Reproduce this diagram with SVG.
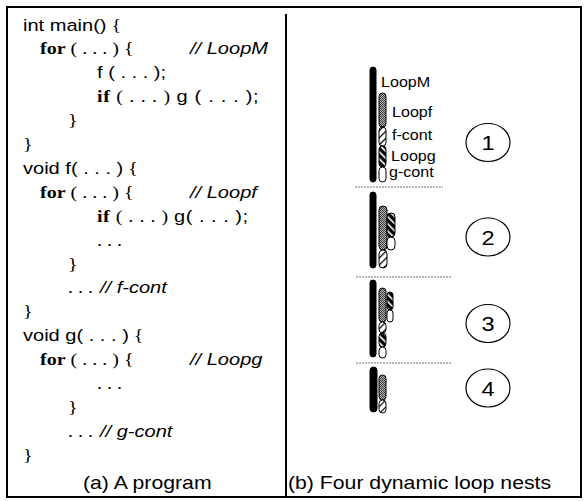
<svg xmlns="http://www.w3.org/2000/svg" width="585" height="501" viewBox="0 0 585 501">
<style>
.sans{font-family:"Liberation Sans",Arial,sans-serif;}
.serif{font-family:"Liberation Serif","Times New Roman",serif;}
.code{font-size:17px;fill:#000;}
.kw{font-family:"Liberation Serif","Times New Roman",serif;font-weight:bold;}
.it{font-family:"Liberation Sans",Arial,sans-serif;font-style:italic;}
.lbl{font-family:"Liberation Sans",Arial,sans-serif;font-size:14px;fill:#000;}
.num{font-family:"Liberation Sans",Arial,sans-serif;font-size:20px;text-anchor:middle;fill:#000;}
.cap{font-family:"Liberation Sans",Arial,sans-serif;font-size:18px;fill:#000;}
.bar{stroke:#000;stroke-width:1;}
.blk{fill:#000;}
.chk{fill:url(#chk);}
.hw{fill:url(#hatchW);}
.hb{fill:url(#hatchB);}
.wh{fill:#fff;}
.sep{stroke:#777;stroke-width:1.2;stroke-dasharray:2 1;fill:none;}
.ring{fill:none;stroke:#000;stroke-width:1.2;}
.frame{fill:none;stroke:#000;stroke-width:2;}
</style>
<defs>
<pattern id="chk" width="2" height="2" patternUnits="userSpaceOnUse">
<rect width="2" height="2" fill="#b4b4b4"/><rect width="1" height="1" fill="#3c3c3c"/><rect x="1" y="1" width="1" height="1" fill="#3c3c3c"/>
</pattern>
<pattern id="hatchW" width="5" height="5" patternUnits="userSpaceOnUse" patternTransform="rotate(45)">
<rect width="5" height="5" fill="#fff"/><rect width="1.2" height="5" fill="#000"/>
</pattern>
<pattern id="hatchB" width="5" height="5" patternUnits="userSpaceOnUse" patternTransform="rotate(-45)">
<rect width="5" height="5" fill="#000"/><rect width="1.6" height="5" fill="#fff"/>
</pattern>
</defs>
<rect width="585" height="501" fill="#fff"/>
<g id="frame">
<rect class="frame" x="7" y="7" width="574" height="490"/>
<line class="frame" x1="286" y1="14" x2="286" y2="497"/>
</g>
<g id="program" class="code">
<text class="sans" transform="matrix(1.18 0 0 1 23 30.5)">int main()<tspan class="serif"> {</tspan></text>
<text transform="matrix(1.18 0 0 1 40 54.4)"><tspan class="kw">for</tspan><tspan class="serif"> ( . . . ) {</tspan></text>
<text class="it" transform="matrix(1.18 0 0 1 190 54.4)">// LoopM</text>
<text class="sans" transform="matrix(1.18 0 0 1 97 78.3)">f ( . . . );</text>
<text transform="matrix(1.18 0 0 1 97 102.2)" textLength="137" lengthAdjust="spacing"><tspan class="kw">if</tspan><tspan class="serif"> ( . . . ) </tspan><tspan class="sans">g ( . . . );</tspan></text>
<text class="serif" transform="matrix(1.18 0 0 1 68 126.1)">}</text>
<text class="serif" transform="matrix(1.18 0 0 1 23 150)">}</text>
<text class="sans" transform="matrix(1.18 0 0 1 23 173.9)">void f( . . . )<tspan class="serif"> {</tspan></text>
<text transform="matrix(1.18 0 0 1 40 197.8)"><tspan class="kw">for</tspan><tspan class="serif"> ( . . . ) {</tspan></text>
<text class="it" transform="matrix(1.18 0 0 1 190 197.8)">// Loopf</text>
<text transform="matrix(1.18 0 0 1 97 221.7)" textLength="128" lengthAdjust="spacing"><tspan class="kw">if</tspan><tspan class="serif"> ( . . . ) </tspan><tspan class="sans">g( . . . );</tspan></text>
<text class="serif" transform="matrix(1.18 0 0 1 97 245.6)">. . .</text>
<text class="serif" transform="matrix(1.18 0 0 1 68 269.5)">}</text>
<text class="serif" transform="matrix(1.18 0 0 1 68 293.4)">. . .</text>
<text class="it" transform="matrix(1.18 0 0 1 100 293.4)">// f-cont</text>
<text class="serif" transform="matrix(1.18 0 0 1 23 317.3)">}</text>
<text class="sans" transform="matrix(1.18 0 0 1 23 341.2)">void g( . . . )<tspan class="serif"> {</tspan></text>
<text transform="matrix(1.18 0 0 1 40 365.1)"><tspan class="kw">for</tspan><tspan class="serif"> ( . . . ) {</tspan></text>
<text class="it" transform="matrix(1.18 0 0 1 190 365.1)">// Loopg</text>
<text class="serif" transform="matrix(1.18 0 0 1 97 389)">. . .</text>
<text class="serif" transform="matrix(1.18 0 0 1 68 412.9)">}</text>
<text class="serif" transform="matrix(1.18 0 0 1 68 436.8)">. . .</text>
<text class="it" transform="matrix(1.18 0 0 1 100 436.8)">// g-cont</text>
<text class="serif" transform="matrix(1.18 0 0 1 23 460.7)">}</text>
</g>
<g id="nest1">
<rect class="bar blk" x="370" y="67" width="6" height="115" rx="3"/>
<rect class="bar chk" x="379" y="93" width="7" height="34" rx="3.5"/>
<rect class="bar hw" x="379" y="127" width="7" height="19" rx="3.5"/>
<rect class="bar hb" x="379" y="146" width="7" height="21" rx="3.5"/>
<rect class="bar wh" x="379" y="167" width="7" height="15" rx="3.5"/>
<text class="lbl" transform="matrix(1.15 0 0 1 381 87)">LoopM</text>
<text class="lbl" transform="matrix(1.15 0 0 1 392 117)">Loopf</text>
<text class="lbl" transform="matrix(1.15 0 0 1 392 140)">f-cont</text>
<text class="lbl" transform="matrix(1.15 0 0 1 391 161)">Loopg</text>
<text class="lbl" transform="matrix(1.15 0 0 1 389 177)">g-cont</text>
<ellipse class="ring" cx="488" cy="142.5" rx="22" ry="19"/>
<text class="num" transform="matrix(1.18 0 0 1 488 150)">1</text>
</g>
<g id="nest2">
<rect class="bar blk" x="370" y="192" width="6" height="76" rx="3"/>
<rect class="bar chk" x="379" y="206" width="8" height="44" rx="4"/>
<rect class="bar hw" x="379" y="250" width="8" height="18" rx="4"/>
<rect class="bar hb" x="387" y="213" width="8" height="24" rx="4"/>
<rect class="bar wh" x="387" y="237" width="8" height="13" rx="4"/>
<ellipse class="ring" cx="488" cy="237" rx="22" ry="19"/>
<text class="num" transform="matrix(1.18 0 0 1 488 244.5)">2</text>
</g>
<g id="nest3">
<rect class="bar blk" x="370" y="280" width="6" height="77" rx="3"/>
<rect class="bar chk" x="379" y="288" width="7" height="34" rx="3.5"/>
<rect class="bar hw" x="379" y="322" width="7" height="11" rx="3.5"/>
<rect class="bar hb" x="379" y="333" width="7" height="14" rx="3.5"/>
<rect class="bar wh" x="379" y="347" width="7" height="11" rx="3.5"/>
<rect class="bar hb" x="387" y="292" width="6" height="18" rx="3"/>
<rect class="bar wh" x="387" y="310" width="6" height="12" rx="3"/>
<ellipse class="ring" cx="488" cy="323.5" rx="22" ry="19"/>
<text class="num" transform="matrix(1.18 0 0 1 488 331)">3</text>
</g>
<g id="nest4">
<rect class="bar blk" x="370" y="367" width="7" height="45" rx="3.5"/>
<rect class="bar chk" x="379" y="375" width="7" height="25" rx="3.5"/>
<rect class="bar hw" x="379" y="400" width="7" height="13" rx="3.5"/>
<ellipse class="ring" cx="488" cy="388" rx="22" ry="19"/>
<text class="num" transform="matrix(1.18 0 0 1 488 395.5)">4</text>
</g>
<g id="separators">
<line class="sep" x1="355" y1="187" x2="443" y2="187"/>
<line class="sep" x1="356" y1="277" x2="451" y2="277"/>
<line class="sep" x1="356" y1="363" x2="451" y2="363"/>
</g>
<g id="captions">
<text class="cap" transform="matrix(1.18 0 0 1 83 489)">(a) A program</text>
<text class="cap" transform="matrix(1.18 0 0 1 288 489)">(b) Four dynamic loop nests</text>
</g>
</svg>
